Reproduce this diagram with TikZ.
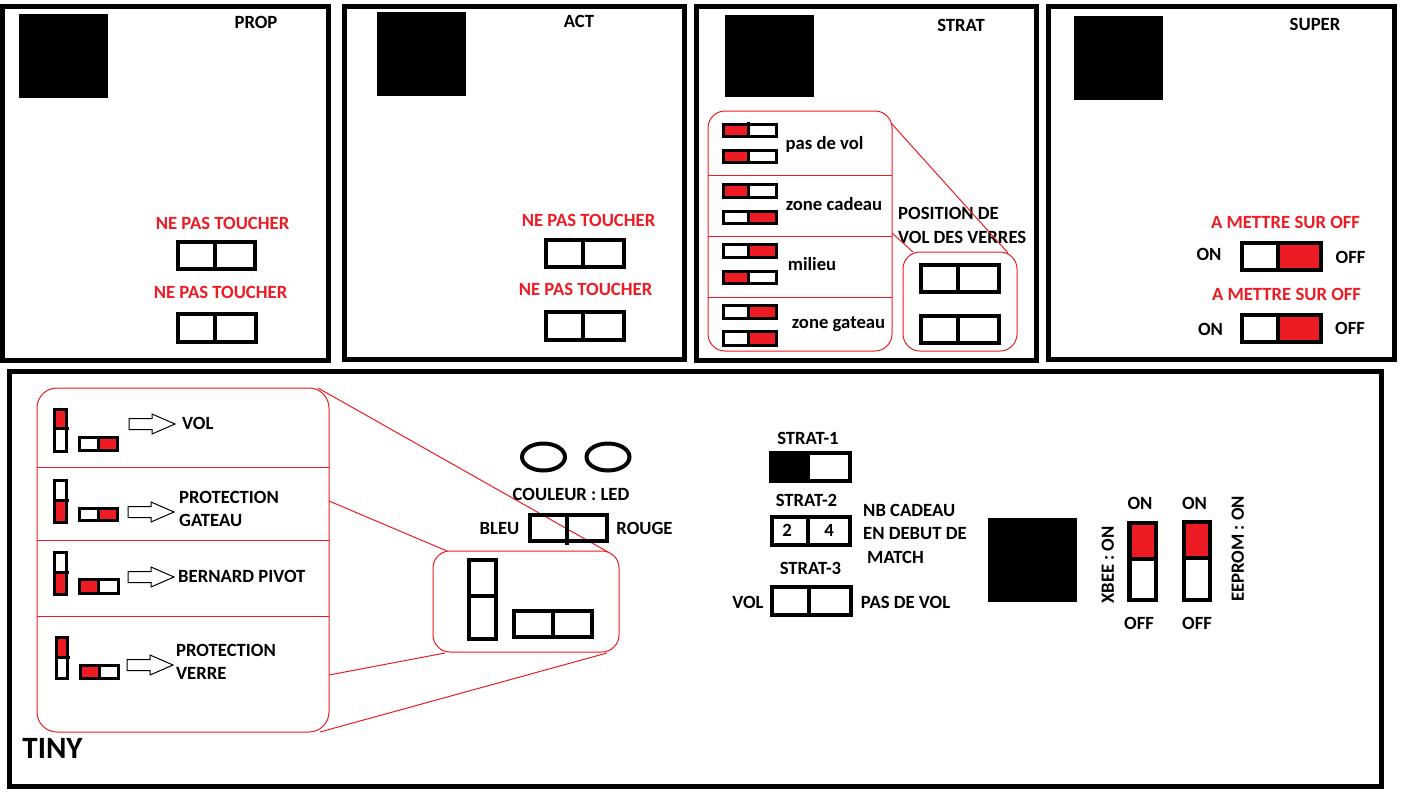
\documentclass[tikz,border=0pt]{standalone}
\usepackage{fontspec}
\setmainfont{Carlito}
\definecolor{pred}{RGB}{237,28,36}
\newcommand\lb{\fontsize{18.67}{22}\selectfont\bfseries}
\newcommand\lbbig{\fontsize{31}{36}\selectfont\bfseries}
% horizontal switch: x1 y1 x2 y2 lw divx fill(0 none,1 left,2 right)
\newcommand\HSW[7]{%
  \ifcase#7\or\fill[pred] (#1,#2) rectangle (#6,#4);\or\fill[pred] (#6,#2) rectangle (#3,#4);\fi
  \draw[line width=#5pt] (#1,#2) rectangle (#3,#4) (#6,#2-2) -- (#6,#4);}
% vertical switch: x1 y1 x2 y2 lw divy fill(0 none,1 top,2 bottom)
\newcommand\VSW[7]{%
  \ifcase#7\or\fill[pred] (#1,#2) rectangle (#3,#6);\or\fill[pred] (#1,#6) rectangle (#3,#4);\fi
  \draw[line width=#5pt] (#1,#2) rectangle (#3,#4) (#1,#6) -- (#3+2,#6);}
% outline block arrow: x0 ycenter
\newcommand\BARR[2]{%
  \draw[barrow] (#1,#2-5.5) -- ++(23,0) -- ++(0,-4.5) -- ++(23,10) -- ++(-23,10) -- ++(0,-4.5) -- ++(-23,0) -- cycle;}
\tikzset{
  panel/.style={draw, line width=5pt},
  zoombox/.style={draw=pred, line width=1pt, rounded corners=17pt},
  zline/.style={draw=pred, line width=1pt},
  lbl/.style={inner sep=0pt, text height=11.8pt, text depth=0pt, font=\lb},
  rlbl/.style={lbl, text=pred},
  chip/.style={fill=black},
  led/.style={draw, line width=4pt},
  barrow/.style={draw, line width=1pt}
}
\begin{document}
\begin{tikzpicture}[x=1pt,y=-1pt]
\fill[white] (0,0) rectangle (1409,793);
\useasboundingbox (0,0) rectangle (1409,793);

% ---------- panels ----------
\draw[panel] (2.5,6.5) rectangle (328.5,360.5);
\draw[panel] (344.5,6.5) rectangle (684.5,359.5);
\draw[panel] (696.5,6.5) rectangle (1036,360.5);
\draw[panel] (1048,6.5) rectangle (1394.5,359);
\draw[panel] (9.5,371) rectangle (1381.5,786.5);

% ---------- chips ----------
\fill[chip] (19,14) rectangle (108,98);
\fill[chip] (377,12) rectangle (466,96);
\fill[chip] (725,15) rectangle (814,97);
\fill[chip] (1074,16) rectangle (1163,100);
\fill[chip] (988,518) rectangle (1077,602);

% ---------- titles ----------
\node[lbl] (tprop) at (256,22.5) {PROP};
\node[lbl] (tact) at (579,22) {ACT};
\node[lbl] (tstrat) at (961,26) {STRAT};
\node[lbl] (tsuper) at (1315,25) {SUPER};
\node[inner sep=0pt, text height=19.6pt, text depth=0pt, font=\lbbig] (ttiny) at (52.5,749) {TINY};

% ---------- PROP ----------
\node[rlbl] (prop1) at (222.5,224) {NE PAS TOUCHER};
\HSW{178}{242}{255}{269}{4}{215}{0}
\node[rlbl] (prop2) at (220.5,293) {NE PAS TOUCHER};
\HSW{178}{314}{256}{342}{4}{215}{0}

% ---------- ACT ----------
\node[rlbl] (act1) at (588.5,221) {NE PAS TOUCHER};
\HSW{546}{240}{624}{267}{4}{583}{0}
\node[rlbl] (act2) at (585.5,290) {NE PAS TOUCHER};
\HSW{546}{312}{624}{340}{4}{583}{0}

% ---------- STRAT ----------
\draw[zoombox] (708,111) rectangle (892,351);
\draw[zline] (708,175) -- (892,175) (708,236) -- (892,236) (708,297) -- (892,297);
\HSW{723.5}{124}{776.5}{136}{3}{748}{1}
\HSW{723.5}{150.5}{776.5}{162.5}{3}{748}{1}
\HSW{723.5}{184.5}{776.5}{197.5}{3}{748}{1}
\HSW{723.5}{211.5}{776.5}{223.5}{3}{748}{2}
\HSW{723.5}{244.5}{776.5}{257.5}{3}{748}{2}
\HSW{723.5}{271.5}{776.5}{283.5}{3}{748}{1}
\HSW{723.5}{305.5}{776.5}{318.5}{3}{748}{2}
\HSW{723.5}{331.5}{776.5}{345.5}{3}{748}{2}
\node[lbl, text height=12.5pt, text depth=3.5pt] (spas) at (824.5,145) {pas de vol};
\node[lbl, text height=12.5pt, text depth=3.5pt] (szone) at (834,206) {zone cadeau};
\node[lbl, text height=12.5pt, text depth=3.5pt] (smil) at (812,266) {milieu};
\node[lbl, text height=12.5pt, text depth=3.5pt] (sgat) at (838.5,324) {zone gateau};
\draw[zoombox] (903,252) rectangle (1017,351);
\HSW{921}{265}{999}{292}{4}{958}{0}
\HSW{921}{316}{999}{343}{4}{958}{0}
\node[lbl, anchor=west] (spos1) at (898,214) {POSITION DE};
\node[lbl, anchor=west] (spos2) at (898,237.5) {VOL DES VERRES};
\coordinate (sz1a) at (891,123);
\coordinate (sz1b) at (1008,253);
\coordinate (sz2a) at (892,233);
\coordinate (sz2b) at (913,252);
\draw[zline] (sz1a) -- (sz1b);
\draw[zline] (sz2a) -- (sz2b);

% ---------- SUPER ----------
\node[rlbl] (sup1) at (1285.5,222.5) {A METTRE SUR OFF};
\HSW{1242}{243}{1321}{270}{4}{1278}{2}
\node[lbl] (son1) at (1209,255) {ON};
\node[lbl] (soff1) at (1350.5,257.5) {OFF};
\node[rlbl] (sup2) at (1286.5,294.5) {A METTRE SUR OFF};
\HSW{1242}{315}{1321}{342}{4}{1278}{2}
\node[lbl] (son2) at (1210.5,330) {ON};
\node[lbl] (soff2) at (1350,329) {OFF};

% ---------- TINY: left zoom box ----------
\draw[zoombox, rounded corners=20pt] (37,388) rectangle (329,732);
\draw[zline] (37,467) -- (329,467) (37,540) -- (329,540) (37,616) -- (329,616);
\VSW{54.5}{409.5}{66.5}{451.5}{3}{428}{1}
\HSW{79.5}{437.5}{117.5}{450.5}{3}{98}{2}
\BARR{129}{424}
\node[lbl, anchor=west] (tvol) at (182,424) {VOL};
\VSW{54.5}{480.5}{66.5}{522.5}{3}{500}{2}
\HSW{79.5}{508.5}{117.5}{520.5}{3}{98}{2}
\BARR{128}{512}
\node[lbl, anchor=west] (tpg1) at (179,498) {PROTECTION};
\node[lbl, anchor=west] (tpg2) at (179,521) {GATEAU};
\VSW{54.5}{552.5}{66.5}{594.5}{3}{572}{2}
\HSW{79.5}{579.5}{118.5}{593.5}{3}{98}{1}
\BARR{128}{577}
\node[lbl, anchor=west] (tbp) at (178,577) {BERNARD PIVOT};
\VSW{56.5}{637.5}{67.5}{678.5}{3}{657}{1}
\HSW{80.5}{665.5}{118.5}{678.5}{3}{99}{1}
\BARR{127}{665}
\node[lbl, anchor=west] (tpv1) at (176,651) {PROTECTION};
\node[lbl, anchor=west] (tpv2) at (176,674) {VERRE};

% ---------- TINY: middle zoom box ----------
\draw[zoombox] (433,551) rectangle (619,652);
\VSW{469}{560}{496}{639}{4}{596}{0}
\HSW{514}{611}{592}{637}{4}{553}{0}
\coordinate (tz1a) at (318,388);
\coordinate (tz1b) at (608,552);
\coordinate (tz2a) at (329,501);
\coordinate (tz2b) at (447,551);
\coordinate (tz3a) at (329,675);
\coordinate (tz3b) at (445,653);
\coordinate (tz4a) at (320,732);
\coordinate (tz4b) at (607,653);
\draw[zline] (tz1a) -- (tz1b);
\draw[zline] (tz2a) -- (tz2b);
\draw[zline] (tz3a) -- (tz3b);
\draw[zline] (tz4a) -- (tz4b);

% ---------- LEDs / couleur ----------
\draw[led] (543.5,457) ellipse [x radius=21.5, y radius=13.5];
\draw[led] (608,457) ellipse [x radius=21.5, y radius=13.5];
\node[lbl] (tcoul) at (571,495) {COULEUR : LED};
\draw[line width=4pt] (530,515) rectangle (607,541) (567,515) -- (567,545);
\node[lbl] (tbleu) at (499.5,528.5) {BLEU};
\node[lbl] (trouge) at (644.5,528.5) {ROUGE};

% ---------- STRAT-1/2/3 ----------
\node[lbl] (ts1) at (808,439) {STRAT-1};
\fill[black] (771,453) rectangle (810,481);
\draw[line width=4pt] (771,453) rectangle (850,481);
\node[lbl] (ts2) at (806.5,501) {STRAT-2};
\HSW{772}{517}{850}{545}{4}{808}{0}
\node[lbl] (tn2) at (787,531) {2};
\node[lbl] (tn4) at (829,531) {4};
\node[lbl, anchor=west] (tnb1) at (863,511) {NB CADEAU};
\node[lbl, anchor=west] (tnb2) at (863,534) {EN DEBUT DE};
\node[lbl, anchor=west] (tnb3) at (867,557.5) {MATCH};
\node[lbl] (ts3) at (810.5,568.5) {STRAT-3};
\HSW{772}{587}{851}{615}{4}{809}{0}
\node[lbl] (tv) at (748,602.5) {VOL};
\node[lbl] (tpdv) at (905.5,602.5) {PAS DE VOL};

% ---------- XBEE / EEPROM ----------
\VSW{1129.5}{523}{1156}{600}{4.5}{559}{1}
\VSW{1184}{522}{1210}{600}{4.5}{558}{1}
\node[lbl] (ton1) at (1140,504) {ON};
\node[lbl] (ton2) at (1194.5,504) {ON};
\node[lbl] (toff1) at (1139,623.5) {OFF};
\node[lbl] (toff2) at (1197,623.5) {OFF};
\node[lbl, rotate=90] (txbee) at (1108,565) {XBEE : ON};
\node[lbl, rotate=90] (teep) at (1238,549) {EEPROM : ON};
\end{tikzpicture}
\end{document}
